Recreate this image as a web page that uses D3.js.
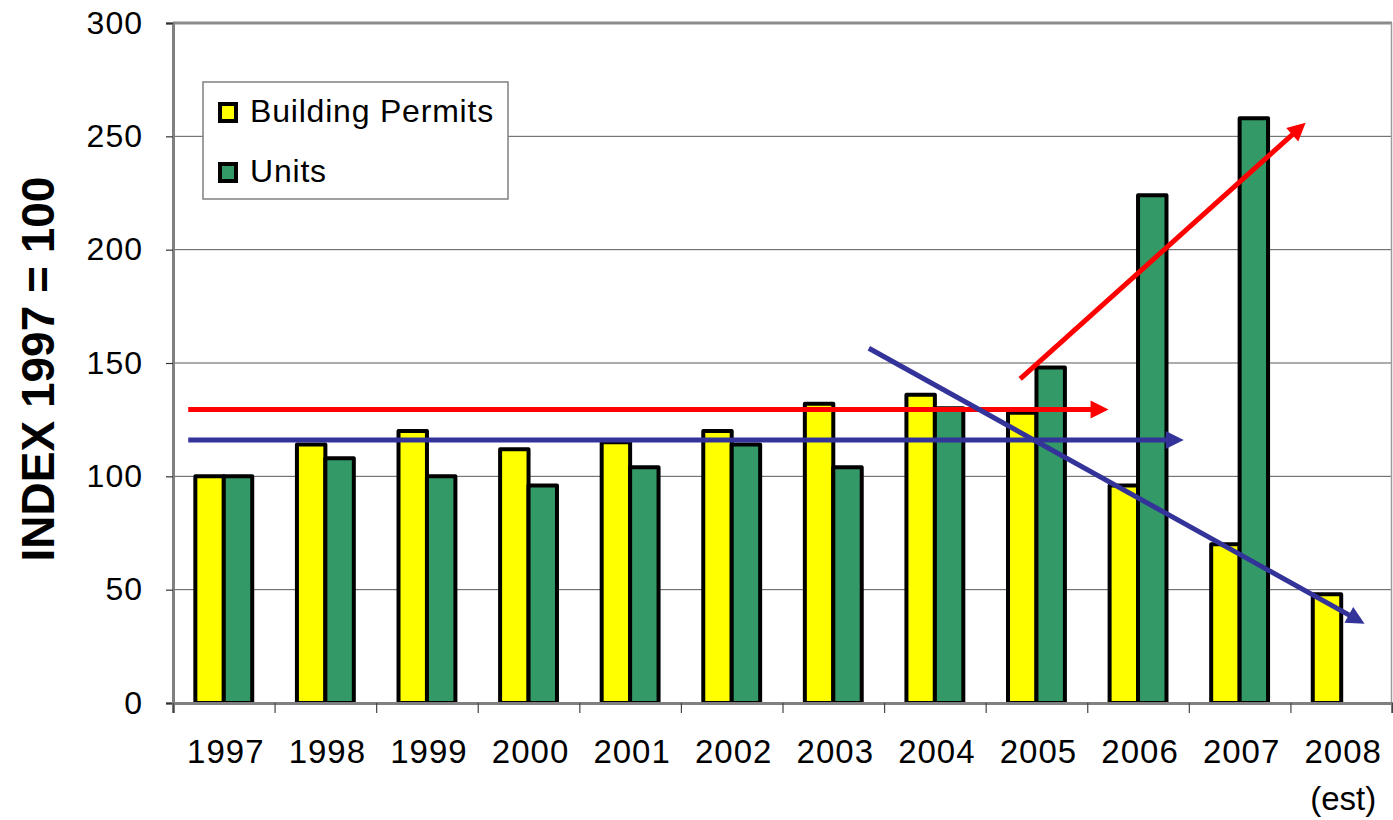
<!DOCTYPE html>
<html>
<head>
<meta charset="utf-8">
<script src="https://cdn.jsdelivr.net/npm/d3@7"></script>
<style>
  body { margin: 0; background: #fff; }
  text { font-family: "Liberation Sans", Arial, sans-serif; fill: #000; }
</style>
</head>
<body>
<div id="chart"></div>
<script>
// chart data
var years = ["1997", "1998", "1999", "2000", "2001", "2002", "2003", "2004", "2005", "2006", "2007", "2008"];
var yearNotes = ["", "", "", "", "", "", "", "", "", "", "", "(est)"];
var permits = [100, 114, 120, 112, 115, 120, 132, 136, 128, 96, 70, 48];
var units = [100, 108, 100, 96, 104, 114, 104, 130, 148, 224, 258, null];
var seriesNames = ["Building Permits", "Units"];
var yTicks = [0, 50, 100, 150, 200, 250, 300];

// trend arrows drawn on top, in (category index, index value) units
var arrowStart = [[0.15, 129.5], [0.15, 116], [6.85, 156.5], [8.34, 143]];
var arrowEnd = [[9.21, 129.5], [9.95, 116], [11.73, 35], [11.15, 256]];
var arrowColors = ["#ff0000", "#333399", "#333399", "#ff0000"];

var width = 1393, height = 820;
var plotLeft = 173, plotRight = 1392, plotTop = 23, plotBottom = 703;

var svg = d3.select("#chart").append("svg")
  .attr("width", width)
  .attr("height", height);

var x = d3.scaleBand().domain(years).range([plotLeft, plotRight]).padding(0);
var xIdx = d3.scaleLinear().domain([0, years.length]).range([plotLeft, plotRight]);
var y = d3.scaleLinear().domain([0, 300]).range([plotBottom, plotTop]);

var fills = ["#ffff00", "#339966"];
var groupW = x.bandwidth() * 0.56;
var x1 = d3.scaleBand().domain([0, 1]).range([0, groupW]);

// gridlines
svg.append("g")
  .selectAll("line")
  .data(yTicks.filter(function(d) { return d > 0 && d < 300; }))
  .enter().append("line")
  .attr("x1", plotLeft).attr("x2", plotRight)
  .attr("y1", function(d) { return y(d); })
  .attr("y2", function(d) { return y(d); })
  .attr("stroke", "#5a5a5a")
  .attr("stroke-width", 1);

// frame top and right
svg.append("line")
  .attr("x1", plotLeft).attr("x2", plotRight)
  .attr("y1", y(300)).attr("y2", y(300))
  .attr("stroke", "#8c8c8c").attr("stroke-width", 3);
svg.append("line")
  .attr("x1", plotRight - 0.5).attr("x2", plotRight - 0.5)
  .attr("y1", y(300)).attr("y2", plotBottom)
  .attr("stroke", "#9a9a9a").attr("stroke-width", 1.5);

// bars
var rows = years.map(function(yr, i) { return { year: yr, vals: [permits[i], units[i]] }; });
var groups = svg.append("g").selectAll("g")
  .data(rows)
  .enter().append("g")
  .attr("transform", function(d) {
    return "translate(" + (x(d.year) + (x.bandwidth() - groupW) / 2) + ",0)";
  });

groups.selectAll("rect")
  .data(function(d) {
    return d.vals.map(function(v, k) { return { k: k, v: v }; })
      .filter(function(e) { return e.v != null; });
  })
  .enter().append("rect")
  .attr("x", function(d) { return x1(d.k); })
  .attr("width", x1.bandwidth())
  .attr("y", function(d) { return y(d.v); })
  .attr("height", function(d) { return plotBottom - y(d.v); })
  .attr("fill", function(d) { return fills[d.k]; })
  .attr("stroke", "#000")
  .attr("stroke-width", 4)
  .attr("stroke-linejoin", "round");

// y axis
var yAxis = svg.append("g")
  .attr("transform", "translate(" + plotLeft + ",0)")
  .call(d3.axisLeft(y).tickValues(yTicks).tickSize(7).tickPadding(23));
yAxis.select(".domain").attr("stroke", "#808080").attr("stroke-width", 3);
yAxis.selectAll(".tick line").attr("stroke", "#333").attr("stroke-width", 1.2);
yAxis.selectAll(".tick text")
  .attr("font-size", 32)
  .attr("letter-spacing", 1)
  .attr("font-family", "Liberation Sans, Arial, sans-serif")
  .attr("fill", "#000");

// x axis
var xAxis = svg.append("g")
  .attr("transform", "translate(0," + plotBottom + ")")
  .call(d3.axisBottom(xIdx).tickValues(d3.range(0, years.length + 1)).tickSize(10).tickFormat(""));
xAxis.select(".domain").attr("stroke", "#808080").attr("stroke-width", 3);
xAxis.selectAll(".tick line").attr("stroke", "#444").attr("stroke-width", 1.2);

svg.append("g").selectAll("text")
  .data(years)
  .enter().append("text")
  .attr("x", function(d) { return x(d) + x.bandwidth() / 2 + 2; })
  .attr("y", 763)
  .attr("text-anchor", "middle")
  .attr("font-size", 33)
  .attr("letter-spacing", 1)
  .text(function(d) { return d; });

svg.append("g").selectAll("text")
  .data(yearNotes)
  .enter().append("text")
  .attr("x", function(d, i) { return x(years[i]) + x.bandwidth() / 2 + 2; })
  .attr("y", 810)
  .attr("text-anchor", "middle")
  .attr("font-size", 33)
  .text(function(d) { return d; });

// y axis title
svg.append("text")
  .attr("transform", "translate(54,369) rotate(-90)")
  .attr("text-anchor", "middle")
  .attr("font-size", 46)
  .attr("font-weight", "bold")
  .text("INDEX 1997 = 100");

// legend
var legend = svg.append("g").attr("transform", "translate(203,82)");
legend.append("rect")
  .attr("width", 305).attr("height", 117)
  .attr("fill", "#fff")
  .attr("stroke", "#808080").attr("stroke-width", 1.5);
var items = legend.selectAll("g.item")
  .data(seriesNames)
  .enter().append("g")
  .attr("class", "item")
  .attr("transform", function(d, i) { return "translate(0," + (i * 60) + ")"; });
items.append("rect")
  .attr("x", 17).attr("y", 22)
  .attr("width", 16).attr("height", 17)
  .attr("fill", function(d, i) { return fills[i]; })
  .attr("stroke", "#000").attr("stroke-width", 4);
items.append("text")
  .attr("x", 47).attr("y", 40)
  .attr("font-size", 32)
  .attr("letter-spacing", 0.8)
  .text(function(d) { return d; });

// trend arrows
var arrows = svg.append("g");
arrowStart.forEach(function(s, i) {
  var e = arrowEnd[i];
  var x0 = xIdx(s[0]), y0 = y(s[1]), x2 = xIdx(e[0]), y2 = y(e[1]);
  var dx = x2 - x0, dy = y2 - y0, len = Math.sqrt(dx * dx + dy * dy);
  var ux = dx / len, uy = dy / len;
  var head = 18, half = 9;
  var bx = x2 - ux * head, by = y2 - uy * head;
  arrows.append("line")
    .attr("x1", x0).attr("y1", y0)
    .attr("x2", bx + ux * 2).attr("y2", by + uy * 2)
    .attr("stroke", arrowColors[i])
    .attr("stroke-width", 5);
  arrows.append("path")
    .attr("d", "M" + x2 + "," + y2 +
      "L" + (bx - uy * half) + "," + (by + ux * half) +
      "L" + (bx + uy * half) + "," + (by - ux * half) + "Z")
    .attr("fill", arrowColors[i]);
});
</script>
</body>
</html>
